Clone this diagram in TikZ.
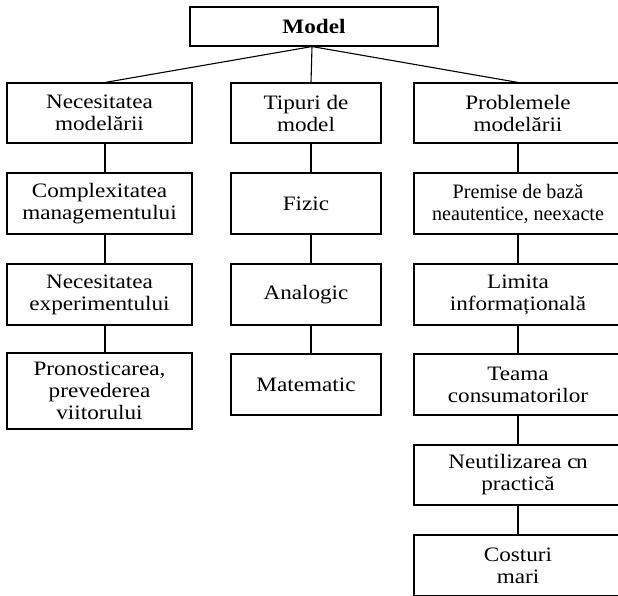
\documentclass[tikz,border=0pt]{standalone}
\usepackage{fontspec}
\setmainfont{Liberation Serif}[FakeStretch=1.13]
\newfontfamily\tightserif{Liberation Serif}[FakeStretch=0.98]
\begin{document}
\begin{tikzpicture}[x=1pt,y=-1pt,
  box/.style={draw, line width=1.1pt, align=center, inner sep=0pt,
    font=\fontsize{20.5}{22}\selectfont},
  colL/.style={box, minimum width=185pt},
  colM/.style={box, minimum width=150pt},
  colR/.style={box, minimum width=208pt},
  link/.style={line width=1.1pt}]
\useasboundingbox (0,0) rectangle (618,596);

% root
\node[box, minimum width=248pt, minimum height=39pt,
      font=\fontsize{20.5}{22}\selectfont\bfseries] (root) at (314,26.5) {Model};

% left column
\node[colL, minimum height=60pt] (l1) at (99.5,113) {Necesitatea\\modelării};
\node[colL, minimum height=61pt] (l2) at (99.5,203.5) {Complexitatea\\managementului};
\node[colL, minimum height=61pt] (l3) at (99.5,294.5) {Necesitatea\\experimentului};
\node[colL, minimum height=76pt] (l4) at (99.5,391) {Pronosticarea,\\prevederea\\viitorului};

% middle column
\node[colM, minimum height=60pt] (m1) at (306,113) {Tipuri de\\model};
\node[colM, minimum height=61pt] (m2) at (306,203.5) {Fizic};
\node[colM, minimum height=61pt] (m3) at (306,294.5) {Analogic};
\node[colM, minimum height=61pt] (m4) at (306,384.5) {Matematic};

% right column
\node[colR, minimum height=60pt] (r1) at (518,113) {Problemele\\modelării};
\node[colR, minimum height=61pt, font=\fontsize{20.5}{22}\tightserif]
  (r2) at (518,203.5) {Premise de bază\\neautentice, neexacte};
\node[colR, minimum height=61pt] (r3) at (518,294.5) {Limita\\informațională};
\node[colR, minimum height=61pt] (r4) at (518,384.5) {Teama\\consumatorilor};
\node[colR, minimum height=60pt] (r5) at (518,475) {Neutilizarea c\kern-1.5pt n\\practică};
\node[colR, minimum height=61pt] (r6) at (518,565.5) {Costuri\\mari};

% column axes used by the connectors
\coordinate (axL) at (105,0);
\coordinate (axM) at (311,0);
\coordinate (axR) at (518,0);
\coordinate (hub) at (312,0);

% root to the three column heads
\draw[link] (root.south -| hub) -- (l1.north -| axL);
\draw[link] (root.south -| hub) -- (m1.north -| axM);
\draw[link] (root.south -| hub) -- (r1.north -| axR);

% vertical chains
\foreach \a/\b in {l1/l2,l2/l3,l3/l4}
  \draw[link] (\a.south -| axL) -- (\b.north -| axL);
\foreach \a/\b in {m1/m2,m2/m3,m3/m4}
  \draw[link] (\a.south -| axM) -- (\b.north -| axM);
\foreach \a/\b in {r1/r2,r2/r3,r3/r4,r4/r5,r5/r6}
  \draw[link] (\a.south -| axR) -- (\b.north -| axR);
\end{tikzpicture}
\end{document}
